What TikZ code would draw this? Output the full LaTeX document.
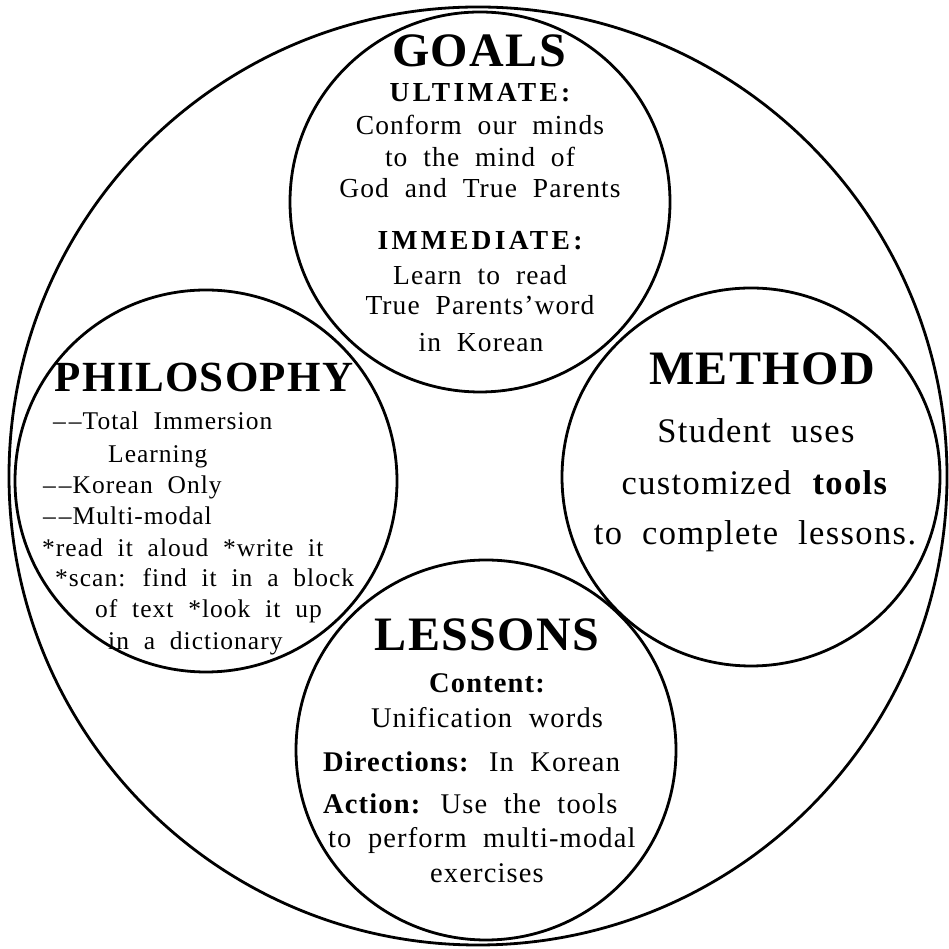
\documentclass[tikz,border=0pt]{standalone}
\usepackage{fontspec}
\setmainfont{Liberation Serif}[LetterSpace=4,WordSpace=2]
\newfontfamily\headfont{Liberation Serif}[LetterSpace=3]
\usetikzlibrary{positioning}
\newcommand{\heading}[1]{{\headfont\fontsize{48}{52}\selectfont\bfseries #1}}
\newcommand{\capline}[1]{{\bfseries\addfontfeature{LetterSpace=12}#1}}
\newcommand{\dd}{\textendash\kern3pt\textendash\kern1pt}

\begin{document}
\begin{tikzpicture}[x=1pt,y=1pt,
  ring/.style={draw,circle,line width=2.8pt,inner sep=0pt},
  gtxt/.style={anchor=base,inner sep=0pt,font=\fontsize{27.5}{30}\selectfont},
  ptxt/.style={anchor=base west,inner sep=0pt,font=\fontsize{25.5}{30}\selectfont},
  mtxt/.style={anchor=base,inner sep=0pt,font=\fontsize{34.5}{38}\selectfont},
  ltxt/.style={anchor=base,inner sep=0pt,font=\fontsize{28.5}{32}\selectfont}]
\useasboundingbox (0,0) rectangle (948,949);

% the five circles
\node[ring,minimum size=938pt] (outer) at (478,473) {};
\node[ring,minimum size=380pt] (goals) at (480,747) {};
\node[ring,minimum size=382pt] (philo) at (206,468) {};
\node[ring,minimum size=378pt] (method) at (751,472) {};
\node[ring,minimum size=380pt] (lessons) at (486,199) {};

% goals
\node[gtxt] (g0) at (479,882) {\heading{GOALS}};
\node[gtxt] (g1) at (480,847) {\capline{ULTIMATE:}};
\node[gtxt] (g2) at (480,814) {Conform our minds};
\node[gtxt] (g3) at (480,782) {to the mind of};
\node[gtxt] (g4) at (480,751) {God and True Parents};
\node[gtxt] (g5) at (480,699) {\capline{IMMEDIATE:}};
\node[gtxt] (g6) at (480,664) {Learn to read};
\node[gtxt] (g7) at (480,634) {True Parents'word};
\node[gtxt] (g8) at (481,597) {in Korean};

% philosophy
\node[anchor=base,inner sep=0pt] (p0) at (204,557) {{\headfont\fontsize{43}{46}\selectfont\bfseries PHILOSOPHY}};
\node[ptxt] (p1) at (53,519) {\dd Total Immersion};
\node[ptxt] (p2) at (108,486) {Learning};
\node[ptxt] (p3) at (43,455) {\dd Korean Only};
\node[ptxt] (p4) at (43,424) {\dd Multi-modal};
\node[ptxt] (p5) at (42,392) {*read it aloud *write it};
\node[ptxt] (p6) at (55,362) {*scan: find it in a block};
\node[ptxt] (p7) at (95,331) {of text *look it up};
\node[ptxt] (p8) at (108,299) {in a dictionary};

% method
\node[mtxt] (m0) at (762,564) {\heading{METHOD}};
\node[mtxt] (m1) at (756,506) {Student uses};
\node[mtxt] (m2) at (755,454) {customized \textbf{tools}};
\node[mtxt] (m3) at (755,404) {to complete lessons.};

% lessons
\node[ltxt] (l0) at (487,298) {\heading{LESSONS}};
\node[ltxt] (l1) at (487,256) {\bfseries Content:};
\node[ltxt] (l2) at (487,221) {Unification words};
\node[ltxt,anchor=base west] (l3) at (323,177) {\textbf{Directions:} In Korean};
\node[ltxt,anchor=base west] (l4) at (323,135) {\textbf{Action:} Use the tools};
\node[ltxt,anchor=base west] (l5) at (328,101) {to perform multi-modal};
\node[ltxt] (l6) at (487,66) {exercises};
\end{tikzpicture}
\end{document}
